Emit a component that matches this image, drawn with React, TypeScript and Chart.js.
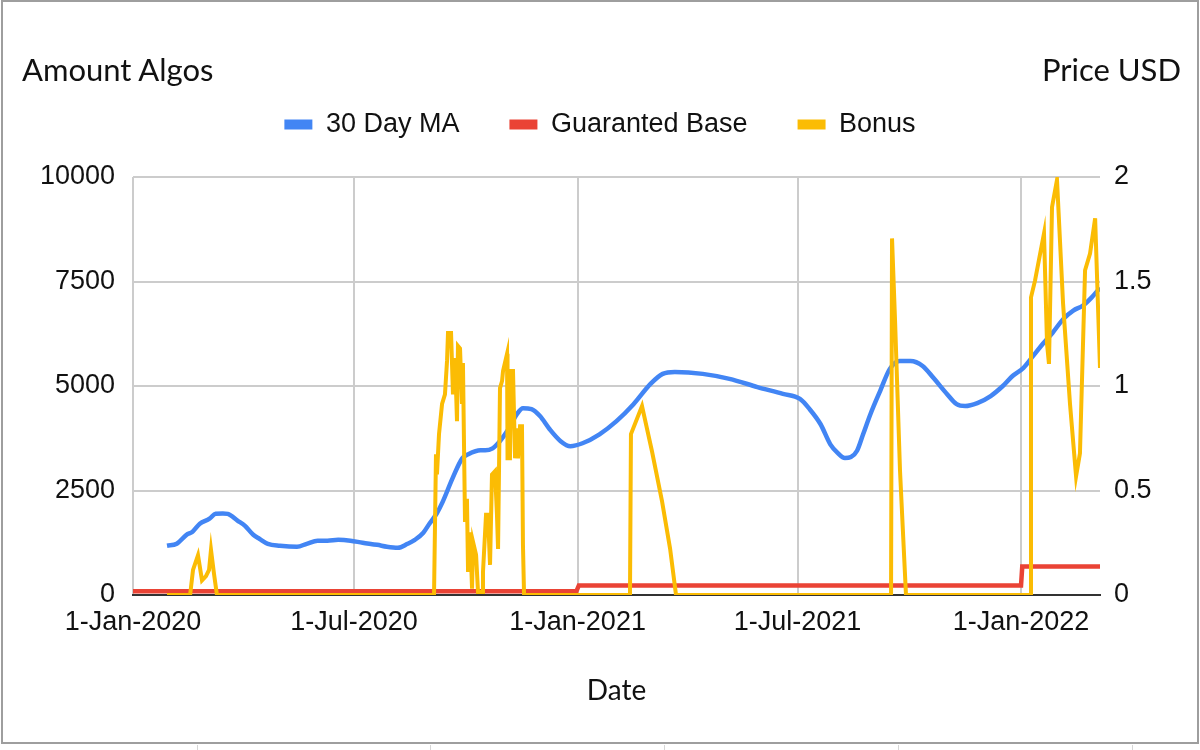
import React, { useEffect, useRef } from "react";
import { Chart, registerables } from "chart.js";

Chart.register(...registerables);

// x values are days counted from 1-Jan-2020
const xTickDays = [0, 182, 366, 547, 731];
const xTickLabels = ["1-Jan-2020", "1-Jul-2020", "1-Jan-2021", "1-Jul-2021", "1-Jan-2022"];
const xMaxDay = 796;

// 30 Day MA, price in USD (right axis)
const maDays = [
  28, 36, 44, 49, 55, 63, 68, 74, 78, 86, 92, 99, 104, 111, 121, 135, 143, 152, 160, 169,
  179, 189, 201, 209, 218, 226, 232, 239, 244, 250, 255, 263, 271, 276, 286, 290, 296, 302, 309, 316,
  321, 328, 335, 343, 352, 360, 370, 384, 398, 412, 426, 436, 446, 469, 491, 514, 535, 549, 557, 566,
  574, 580, 586, 591, 596, 601, 607, 615, 623, 631, 640, 650, 659, 670, 678, 685, 695, 706, 716, 724,
  733, 741, 749, 757, 766, 774, 782, 789, 796,
];
const maPrice = [
  0.236, 0.245, 0.288, 0.303, 0.341, 0.365, 0.389, 0.39, 0.388, 0.356, 0.332, 0.288, 0.269, 0.245, 0.236, 0.231, 0.245, 0.26, 0.26, 0.264,
  0.26, 0.25, 0.24, 0.231, 0.226, 0.245, 0.264, 0.298, 0.341, 0.39, 0.447, 0.558, 0.654, 0.673, 0.692, 0.692, 0.702, 0.736, 0.793, 0.865,
  0.894, 0.889, 0.856, 0.793, 0.736, 0.712, 0.726, 0.769, 0.832, 0.913, 1.01, 1.058, 1.067, 1.058, 1.034, 0.995, 0.962, 0.938, 0.889, 0.817,
  0.721, 0.68, 0.655, 0.66, 0.69, 0.769, 0.865, 0.976, 1.082, 1.12, 1.12, 1.096, 1.038, 0.962, 0.913, 0.904, 0.918, 0.952, 1.0, 1.048,
  1.087, 1.144, 1.202, 1.255, 1.322, 1.361, 1.385, 1.423, 1.47,
];

// Guaranted Base, amount in Algos (left axis)
const baseDays = [0, 365, 367, 731, 732, 796];
const baseAlgos = [90, 90, 230, 230, 680, 680];

// Bonus, amount in Algos (left axis)
const bonusDays = [
  28, 47, 49.4, 53.5, 56.8, 60.1, 62.6, 64.2, 66.7, 69.1,
  247.8, 249.4, 250.2, 251.9, 254.4, 256.8, 258.5, 259.3, 261.8, 263.4, 265.1, 266.7, 267.5, 269.2, 270.8, 271.6,
  273.3, 274.9, 275.8, 277.4, 279.1, 279.9, 282.4, 284, 287.3, 288.1, 290.6, 292.2, 293.9, 295.5, 298, 299.6,
  300.5, 302.1, 303.8, 304.6, 307.9, 308.3, 310.3, 311.2, 312.8, 314.5, 316.1, 316.9, 318.6, 320.2, 321, 321.9,
  409.1, 409.9, 419, 427.2, 435.5, 442.1, 447,
  624, 624.8, 627.3, 631.4, 636.3,
  738.4, 739.2, 742.5, 749.9, 752.4, 754, 756.5, 760.6, 765.6, 771.3, 776.3, 779.5, 783.7, 787.8, 792, 796,
];
const bonusAlgos = [
  0, 0, 600, 950, 350, 450, 600, 1080, 500, 0,
  0, 3365, 2885, 3850, 4570, 4800, 5600, 6270, 6270, 4800, 5670, 4160, 5960, 5900, 4570, 5550,
  1750, 2300, 550, 1500, 150, 1270, 960, 70, 70, 550, 1920, 1920, 720, 2880, 2960, 1920,
  1100, 4950, 5120, 5360, 5770, 3270, 3270, 5360, 5360, 3270, 3990, 3270, 4040, 4040, 1200, 0,
  0, 3850, 4520, 3440, 2240, 1110, 0,
  0, 8530, 6560, 2960, 0,
  0, 7120, 7520, 8650, 6010, 5530, 9280, 9930, 6970, 4570, 2840, 3390, 7770, 8170, 9010, 5430,
];

const BLUE = "#4285F4";
const RED = "#EA4335";
const YELLOW = "#FBBC04";
const GRID = "#cccccc";
const SANS = "'Liberation Sans', Arial, sans-serif";
const TITLE_FONT = "Lato, 'Open Sans', sans-serif";
const LEGEND_GAP = 29;

const zip = (xs: number[], ys: number[]) => xs.map((x, i) => ({ x, y: ys[i] }));

// extra room under the legend
const legendGap = {
  id: "legendGap",
  beforeLayout(chart: any) {
    const legend = chart.legend;
    if (!legend || legend._gapPatched) return;
    const fit = legend.fit;
    legend.fit = function () {
      fit.call(this);
      this.height += LEGEND_GAP;
    };
    legend._gapPatched = true;
  },
};

const App: React.FC = () => {
  const ref = useRef<HTMLCanvasElement>(null);

  useEffect(() => {
    if (!ref.current) return;
    const chart = new Chart(ref.current, {
      type: "line",
      data: {
        datasets: [
          {
            label: "30 Day MA",
            data: zip(maDays, maPrice),
            yAxisID: "y1",
            borderColor: BLUE,
            backgroundColor: BLUE,
            borderWidth: 4.5,
            pointRadius: 0,
            cubicInterpolationMode: "monotone",
            order: 2,
          },
          {
            label: "Guaranted Base",
            data: zip(baseDays, baseAlgos),
            yAxisID: "y",
            borderColor: RED,
            backgroundColor: RED,
            borderWidth: 4.5,
            pointRadius: 0,
            tension: 0,
            order: 1,
          },
          {
            label: "Bonus",
            data: zip(bonusDays, bonusAlgos),
            yAxisID: "y",
            borderColor: YELLOW,
            backgroundColor: YELLOW,
            borderWidth: 4,
            pointRadius: 0,
            tension: 0,
            order: 0,
          },
        ],
      },
      options: {
        responsive: false,
        animation: false,
        devicePixelRatio: 1,
        layout: { padding: { top: 61, bottom: 42, left: 0, right: 0 } },
        plugins: {
          legend: {
            position: "top",
            labels: {
              color: "#111",
              font: { family: SANS, size: 27 },
              boxWidth: 28,
              boxHeight: 10,
              padding: 50,
              sort: (a: any, b: any) => a.datasetIndex - b.datasetIndex,
              generateLabels: (c: any) =>
                Chart.defaults.plugins.legend.labels.generateLabels(c).map((l: any) => ({ ...l, lineWidth: 0 })),
            },
          },
          tooltip: { enabled: false },
        },
        scales: {
          x: {
            type: "linear",
            min: 0,
            max: xMaxDay,
            afterBuildTicks: (scale: any) => {
              scale.ticks = xTickDays.map(v => ({ value: v }));
            },
            ticks: {
              color: "#111",
              font: { family: SANS, size: 27 },
              padding: 11,
              maxRotation: 0,
              autoSkip: false,
              callback: (_v: any, i: number) => xTickLabels[i],
            },
            grid: { color: GRID, lineWidth: 2, drawTicks: false },
            border: { display: true, color: "#333", width: 2 },
            title: {
              display: true,
              text: "Date",
              color: "#111",
              font: { family: TITLE_FONT, size: 28 },
              padding: { top: 25, bottom: 0 },
            },
          },
          y: {
            position: "left",
            min: 0,
            max: 10000,
            afterBuildTicks: (scale: any) => {
              scale.ticks = [0, 2500, 5000, 7500, 10000].map(v => ({ value: v }));
            },
            afterFit: (scale: any) => {
              scale.width = 133;
            },
            ticks: {
              color: "#111",
              font: { family: SANS, size: 27 },
              padding: 18,
              callback: (v: any) => String(v),
            },
            grid: { color: GRID, lineWidth: 2, drawTicks: false },
            border: { display: false },
          },
          y1: {
            position: "right",
            min: 0,
            max: 2,
            afterBuildTicks: (scale: any) => {
              scale.ticks = [0, 0.5, 1, 1.5, 2].map(v => ({ value: v }));
            },
            afterFit: (scale: any) => {
              scale.width = 100;
            },
            ticks: {
              color: "#111",
              font: { family: SANS, size: 27 },
              padding: 14,
              callback: (v: any) => String(v),
            },
            grid: { display: false, drawTicks: false },
            border: { display: false },
          },
        },
      },
      plugins: [legendGap],
    });
    return () => chart.destroy();
  }, []);

  const sheetTicks = [197, 430, 664, 898, 1132];

  return (
    <div style={{ position: "relative", width: 1200, height: 750, background: "#fff", overflow: "hidden" }}>
      <style>{`body{margin:0;background:#fff}`}</style>
      <canvas ref={ref} width={1200} height={750} style={{ position: "absolute", left: 0, top: 0, width: 1200, height: 750 }} />
      <div
        style={{
          position: "absolute", left: 1, top: 0, width: 1198, height: 744,
          border: "2px solid #9e9e9e", boxSizing: "border-box", pointerEvents: "none",
        }}
      />
      {sheetTicks.map(x => (
        <div key={x} style={{ position: "absolute", left: x, top: 745, width: 1, height: 5, background: "#d6d6d6" }} />
      ))}
      <div style={{ position: "absolute", left: 22, top: 54, fontFamily: TITLE_FONT, fontSize: 31, lineHeight: 1, color: "#111" }}>
        Amount Algos
      </div>
      <div style={{ position: "absolute", right: 19, top: 54, fontFamily: TITLE_FONT, fontSize: 31, lineHeight: 1, color: "#111" }}>
        Price USD
      </div>
    </div>
  );
};

export default App;
